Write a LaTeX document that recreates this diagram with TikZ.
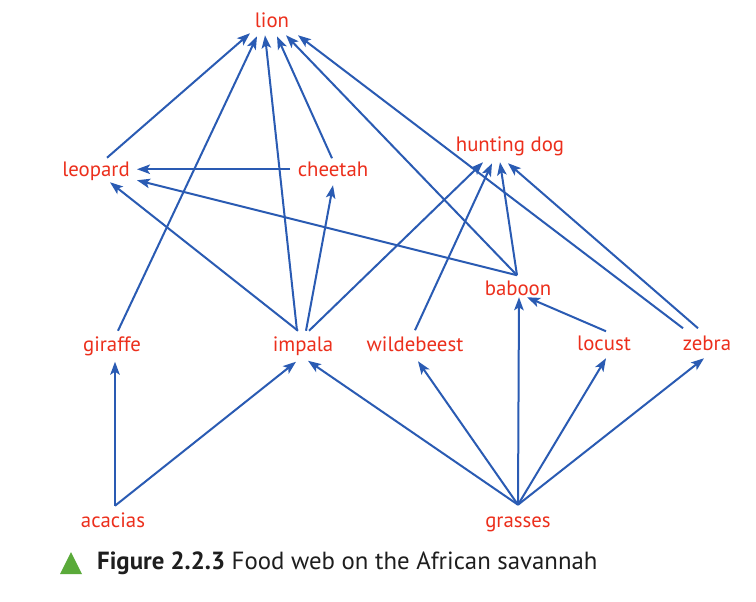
\documentclass[tikz,border=0pt]{standalone}
\usepackage{fontspec}
\setmainfont{PT Sans}
\usetikzlibrary{arrows.meta}
\definecolor{labred}{HTML}{EC2F1C}
\definecolor{webblue}{HTML}{2A5BB3}
\definecolor{capgreen}{HTML}{5AAA3A}
\definecolor{capgray}{HTML}{1E1E1E}
\tikzset{
  species/.style={text=labred, font=\fontsize{20.8}{24}\selectfont, inner sep=0pt, anchor=center,
    text height=15pt, text depth=4.5pt},
  eats/.style={draw=webblue, line width=2pt, -{Stealth[length=13pt,width=9.5pt,inset=3pt]}},
  caption/.style={text=capgray, font=\fontsize{24.8}{29}\selectfont, inner sep=0pt, anchor=west},
}
\begin{document}
\begin{tikzpicture}[x=1pt,y=-1pt]
\fill[white] (0,0) rectangle (756,602);
\useasboundingbox (0,0) rectangle (756,602);
% species (centre = baseline - 5.25)
\node[species] (lion) at (272,22.75) {lion};
\node[species] (leopard) at (96,170.75) {leopard};
\node[species] (cheetah) at (333,170.75) {cheetah};
\node[species] (hdog) at (510,146.75) {hunting dog};
\node[species] (baboon) at (518,289.75) {baboon};
\node[species] (giraffe) at (112,345.75) {giraffe};
\node[species] (impala) at (303,345.75) {impala};
\node[species] (wbeest) at (415,345.75) {wildebeest};
\node[species] (locust) at (604,344.75) {locust};
\node[species] (zebra) at (707,344.75) {zebra};
\node[species] (acacias) at (113,521.75) {acacias};
\node[species] (grasses) at (518,521.75) {grasses};
% into lion
\draw[eats] ([shift={(11,-13)}]leopard.center) -- ([shift={(-22,10.5)}]lion.center);
\draw[eats] ([shift={(6,-15)}]giraffe.center) -- ([shift={(-15,13.5)}]lion.center);
\draw[eats] ([shift={(-6,-15)}]impala.center) -- ([shift={(-7,12.5)}]lion.center);
\draw[eats] ([shift={(-1,-12.5)}]cheetah.center) -- ([shift={(5,13.5)}]lion.center);
\draw[eats] ([shift={(-1,-14.5)}]baboon.center) -- ([shift={(14,12.5)}]lion.center);
\draw[eats] ([shift={(-24,-16.5)}]zebra.center) -- ([shift={(26,12.5)}]lion.center);
% into hunting dog
\draw[eats] ([shift={(6,-15)}]impala.center) -- ([shift={(-27,15.5)}]hdog.center);
\draw[eats] ([shift={(0,-15.5)}]wbeest.center) -- ([shift={(-18,16.5)}]hdog.center);
\draw[eats] ([shift={(-1,-14.5)}]baboon.center) -- ([shift={(-10,15.5)}]hdog.center);
\draw[eats] ([shift={(-9,-16.5)}]zebra.center) -- ([shift={(-2,16.5)}]hdog.center);
% into leopard
\draw[eats] ([shift={(-43,-1.5)}]cheetah.center) -- ([shift={(41,-1.5)}]leopard.center);
\draw[eats] ([shift={(-1,-14.5)}]baboon.center) -- ([shift={(41,9.5)}]leopard.center);
\draw[eats] ([shift={(-5,-15)}]impala.center) -- ([shift={(14,11.5)}]leopard.center);
% into cheetah
\draw[eats] ([shift={(3,-15)}]impala.center) -- ([shift={(0,14.5)}]cheetah.center);
% into baboon
\draw[eats] ([shift={(0,-17)}]grasses.center) -- ([shift={(1,7.5)}]baboon.center);
\draw[eats] ([shift={(2,-13.5)}]locust.center) -- ([shift={(9,7.5)}]baboon.center);
% from acacias
\draw[eats] ([shift={(2,-16)}]acacias.center) -- ([shift={(3,16)}]giraffe.center);
\draw[eats] ([shift={(2,-16)}]acacias.center) -- ([shift={(-7,16)}]impala.center);
% from grasses
\draw[eats] ([shift={(0,-17)}]grasses.center) -- ([shift={(5,15)}]impala.center);
\draw[eats] ([shift={(0,-17)}]grasses.center) -- ([shift={(3,15.5)}]wbeest.center);
\draw[eats] ([shift={(0,-17)}]grasses.center) -- ([shift={(2,13.5)}]locust.center);
\draw[eats] ([shift={(0,-17)}]grasses.center) -- ([shift={(-3,13.5)}]zebra.center);
% caption
\fill[capgreen] (60,574) -- (82,574) -- (71,552) -- cycle;
\node[caption] (cap) at (97,563) {\textbf{Figure 2.2.3} Food web on the African savannah};
\end{tikzpicture}
\end{document}
